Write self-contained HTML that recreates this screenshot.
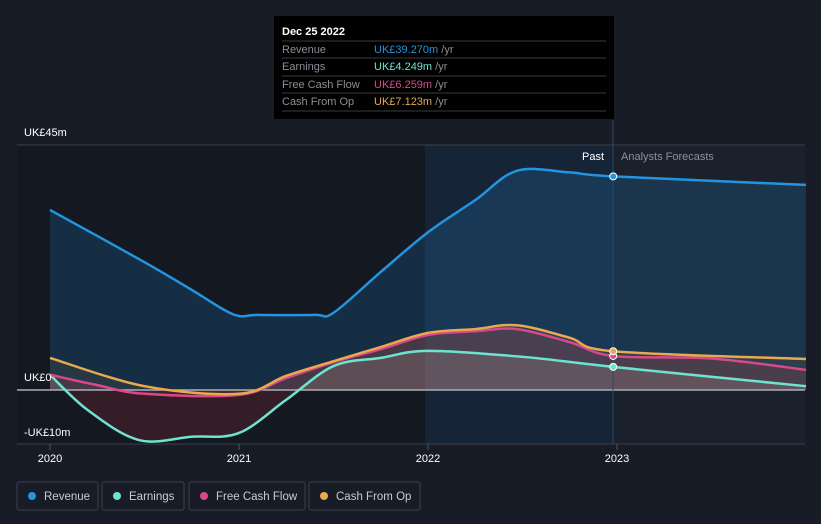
<!DOCTYPE html>
<html><head><meta charset="utf-8"><style>
body{margin:0;background:#181c27;font-family:"Liberation Sans",sans-serif;}
svg{display:block}
</style></head><body>
<svg id="c" width="821" height="524">
<defs>
<clipPath id="above"><rect x="0" y="0" width="821" height="390"/></clipPath>
<clipPath id="below"><rect x="0" y="390" width="821" height="134"/></clipPath>
</defs>
<rect width="821" height="524" fill="#181c27"/>
<rect x="17" y="145" width="408" height="299" fill="#131821"/>
<rect x="425" y="145" width="188" height="299" fill="#162437"/>
<rect x="613" y="145" width="192" height="299" fill="#1a212c"/>
<line x1="17" y1="145" x2="805" y2="145" stroke="#3a404a"/>
<line x1="17" y1="444" x2="805" y2="444" stroke="#3a404a"/>
<g id="areas"></g>
<line x1="17" y1="390" x2="805" y2="390" stroke="#aab0b8" stroke-width="1.5"/>
<line x1="613" y1="120" x2="613" y2="444" stroke="#2c4a66" stroke-width="1"/>
<g id="lines"></g>
<text x="24" y="136" fill="#fff" font-size="11">UK£45m</text>
<text x="24" y="381" fill="#fff" font-size="11">UK£0</text>
<text x="24" y="436" fill="#fff" font-size="11">-UK£10m</text>
<text x="604" y="160" fill="#fff" font-size="11" text-anchor="end">Past</text>
<text x="621" y="160" fill="#8a9099" font-size="11">Analysts Forecasts</text>
<g id="xt"></g>
<g id="tooltip">
<rect x="274" y="16" width="340" height="103" fill="#000"/>
<text x="282" y="35" fill="#fff" font-size="11" font-weight="bold">Dec 25 2022</text>
<g stroke="#3a3a3a"><line x1="282" y1="41" x2="606" y2="41"/><line x1="282" y1="58" x2="606" y2="58"/><line x1="282" y1="76" x2="606" y2="76"/><line x1="282" y1="93" x2="606" y2="93"/><line x1="282" y1="111" x2="606" y2="111"/></g>
<g font-size="11">
<text x="282" y="53" fill="#8a8f96">Revenue</text><text x="374" y="53" fill="#2394df">UK£39.270m <tspan fill="#8a8f96">/yr</tspan></text>
<text x="282" y="70" fill="#8a8f96">Earnings</text><text x="374" y="70" fill="#6de3d0">UK£4.249m <tspan fill="#8a8f96">/yr</tspan></text>
<text x="282" y="88" fill="#8a8f96">Free Cash Flow</text><text x="374" y="88" fill="#d9488a">UK£6.259m <tspan fill="#8a8f96">/yr</tspan></text>
<text x="282" y="105" fill="#8a8f96">Cash From Op</text><text x="374" y="105" fill="#e8a94f">UK£7.123m <tspan fill="#8a8f96">/yr</tspan></text>
</g></g>
<g id="legend" font-size="11.5"></g>
</svg>
<script>
const revX=[2020,2020.5,2020.75,2020.97,2021.1,2021.4,2021.5,2021.75,2022,2022.25,2022.47,2022.75,2022.98,2024];
const revY=[33.1,23.5,18.4,13.9,13.8,13.8,14.2,21.7,29,34.9,40.3,40,39.27,37.7];
const earnX=[2020,2020.2,2020.47,2020.75,2021,2021.25,2021.5,2021.75,2022,2022.5,2022.98,2024];
const earnY=[2.8,-3.7,-9.2,-8.6,-7.9,-1.8,4.4,5.9,7.2,6.1,4.249,0.7];
const fcfX=[2020,2020.25,2020.5,2021,2021.25,2021.5,2021.75,2022,2022.25,2022.47,2022.75,2022.98,2023.5,2024];
const fcfY=[2.8,0.9,-0.7,-0.9,2.2,5.1,7.5,10.1,10.8,11.2,8.8,6.259,5.8,3.7];
const cfoX=[2020,2020.5,2021,2021.25,2021.5,2021.75,2022,2022.25,2022.47,2022.75,2022.98,2024];
const cfoY=[5.9,0.7,-0.7,2.6,5.3,7.9,10.5,11.2,11.9,9.6,7.123,5.7];
const xTicks=[2020,2021,2022,2023];
const X=t=>50+(t-2020)*189, Y=v=>390-v*5.44;
const NS="http://www.w3.org/2000/svg";
function path(xs,ys){const p=xs.map((t,i)=>[X(t),Y(ys[i])]);let d="M"+p[0];
for(let i=1;i<p.length;i++){const a=p[i-1],b=p[i],pa=p[i-2]||a,pb=p[i+1]||b;
const c1=[a[0]+(b[0]-pa[0])/6,a[1]+(b[1]-pa[1])/6],c2=[b[0]-(pb[0]-a[0])/6,b[1]-(pb[1]-a[1])/6];
d+=" C"+c1+" "+c2+" "+b;}return d;}
function el(tag,at,parent){const e=document.createElementNS(NS,tag);for(const k in at)e.setAttribute(k,at[k]);document.getElementById(parent).appendChild(e);return e;}
const series=[["revenue",revX,revY,"#2394df","rgba(35,148,223,0.18)","rgba(35,148,223,0.18)"],["earnings",earnX,earnY,"#6de3d0","rgba(160,170,170,0.25)","rgba(150,45,60,0.25)"],["free-cash-flow",fcfX,fcfY,"#d9488a","rgba(180,50,70,0.22)","rgba(180,50,70,0.12)"],["cash-from-op",cfoX,cfoY,"#e8a94f","rgba(200,150,80,0.10)","rgba(200,150,80,0.05)"]];
series.forEach(s=>{const d=path(s[1],s[2]);
const ad=d+` L${X(s[1][s[1].length-1])},390 L${X(s[1][0])},390 Z`;
const a=el("path",{d:ad,fill:s[4],"clip-path":"url(#above)"},"areas");


const b=el("path",{d:ad,fill:s[5],"clip-path":"url(#below)"},"areas");


const l=el("path",{d:d,fill:"none",stroke:s[3],"stroke-width":2.5},"lines");


const i=s[1].indexOf(2022.98);
const m=el("circle",{cx:X(s[1][i]),cy:Y(s[2][i]),r:3.5,fill:s[3],stroke:"#fff","stroke-width":1},"lines");

});
xTicks.forEach(t=>{const tl=el("line",{x1:X(t),y1:444,x2:X(t),y2:450,stroke:"#555"},"xt");


const tx=el("text",{x:X(t),y:462,fill:"#fff","font-size":11,"text-anchor":"middle"},"xt");tx.textContent=t;

});
const leg=[["Revenue","#2394df",17,81],["Earnings","#6de3d0",102,82],["Free Cash Flow","#d9488a",189,116],["Cash From Op","#e8a94f",309,111]];
leg.forEach(g=>{const r=el("rect",{x:g[2],y:482,width:g[3],height:28,rx:2,fill:"none",stroke:"#3a404a"},"legend");


el("circle",{cx:g[2]+15,cy:496,r:4,fill:g[1]},"legend");
const t=el("text",{x:g[2]+27,y:500,fill:"#c8ccd2"},"legend");t.textContent=g[0];

});
</script>
</body></html>
